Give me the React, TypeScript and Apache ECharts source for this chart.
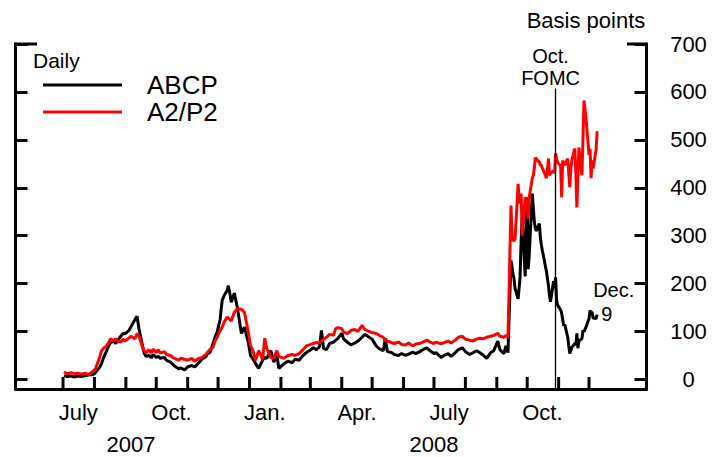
import React, { useEffect, useRef } from "react";
import * as echarts from "echarts";

// ---- Data ----
const dates = [
  "2007-07-02","2007-07-05","2007-07-09","2007-07-12","2007-07-16","2007-07-19","2007-07-23","2007-07-26","2007-07-30",
  "2007-08-02","2007-08-06","2007-08-08","2007-08-10","2007-08-13","2007-08-15","2007-08-17","2007-08-20","2007-08-22","2007-08-24","2007-08-27","2007-08-29","2007-08-31",
  "2007-09-04","2007-09-06","2007-09-10","2007-09-12","2007-09-14","2007-09-17","2007-09-19","2007-09-21","2007-09-24","2007-09-26","2007-09-28",
  "2007-10-01","2007-10-03","2007-10-05","2007-10-09","2007-10-11","2007-10-15","2007-10-17","2007-10-19","2007-10-23","2007-10-25","2007-10-29",
  "2007-11-01","2007-11-05","2007-11-08","2007-11-12","2007-11-15","2007-11-19","2007-11-21","2007-11-23","2007-11-26","2007-11-28","2007-11-30",
  "2007-12-03","2007-12-05","2007-12-07","2007-12-10","2007-12-11","2007-12-13","2007-12-14","2007-12-17","2007-12-20","2007-12-24","2007-12-27","2007-12-31",
  "2008-01-02","2008-01-04","2008-01-07","2008-01-10","2008-01-14","2008-01-16","2008-01-18","2008-01-22","2008-01-25","2008-01-28","2008-01-30",
  "2008-02-04","2008-02-08","2008-02-12","2008-02-15","2008-02-19","2008-02-22","2008-02-26","2008-02-29",
  "2008-03-04","2008-03-07","2008-03-10","2008-03-12","2008-03-14","2008-03-17","2008-03-20","2008-03-24","2008-03-26","2008-03-28",
  "2008-04-01","2008-04-03","2008-04-07","2008-04-10","2008-04-14","2008-04-17","2008-04-21","2008-04-24","2008-04-28",
  "2008-05-01","2008-05-05","2008-05-08","2008-05-12","2008-05-14","2008-05-16","2008-05-20","2008-05-23","2008-05-27","2008-05-30",
  "2008-06-03","2008-06-06","2008-06-10","2008-06-13","2008-06-17","2008-06-20","2008-06-24","2008-06-27",
  "2008-07-01","2008-07-03","2008-07-08","2008-07-11","2008-07-15","2008-07-18","2008-07-22","2008-07-25","2008-07-29",
  "2008-08-01","2008-08-05","2008-08-08","2008-08-12","2008-08-15","2008-08-19","2008-08-22","2008-08-26","2008-08-29",
  "2008-09-02","2008-09-04","2008-09-08","2008-09-10","2008-09-12",
  "2008-09-15","2008-09-16","2008-09-17","2008-09-18","2008-09-19","2008-09-22","2008-09-23","2008-09-24","2008-09-25","2008-09-26","2008-09-29","2008-09-30",
  "2008-10-01","2008-10-02","2008-10-03","2008-10-06","2008-10-07","2008-10-08","2008-10-09","2008-10-10","2008-10-13","2008-10-14","2008-10-15","2008-10-16","2008-10-17",
  "2008-10-20","2008-10-21","2008-10-22","2008-10-23","2008-10-24","2008-10-27","2008-10-28","2008-10-29","2008-10-30","2008-10-31",
  "2008-11-03","2008-11-04","2008-11-05","2008-11-06","2008-11-07","2008-11-10","2008-11-11","2008-11-12","2008-11-13","2008-11-14",
  "2008-11-17","2008-11-18","2008-11-19","2008-11-20","2008-11-21","2008-11-24","2008-11-25","2008-11-26","2008-11-28",
  "2008-12-01","2008-12-02","2008-12-03","2008-12-04","2008-12-05","2008-12-08","2008-12-09",
];

const abcpValues = [
  8,6,7,5,7,6,8,9,10,
  14,25,33,45,60,70,77,80,75,82,90,96,95,
  102,110,125,132,105,75,55,48,50,45,52,
  46,48,44,46,40,36,32,28,22,24,20,
  26,29,26,35,42,48,55,56,75,88,98,
  125,165,175,186,196,175,161,180,150,96,109,75,
  50,44,33,23,40,46,44,60,36,50,23,
  33,38,35,42,40,48,56,60,
  66,62,68,102,65,62,75,78,82,85,
  96,84,77,72,76,80,88,94,88,
  84,70,64,60,86,58,56,52,50,54,
  50,53,57,54,58,62,66,60,
  54,56,46,50,54,48,56,62,66,
  58,52,55,60,56,50,44,56,60,
  80,62,54,70,56,
  248,235,220,210,190,168,190,215,290,338,215,340,
  380,230,260,388,360,330,315,310,325,296,280,268,258,
  225,210,195,175,162,205,190,213,165,155,
  145,138,125,112,115,88,70,54,60,67,
  75,72,96,65,80,85,102,100,109,
  127,144,140,140,128,127,135,
];

const a2p2Values = [
  16,12,14,12,13,11,13,10,16,
  22,45,60,65,70,77,85,80,85,80,78,84,80,
  86,90,85,96,90,70,60,56,62,55,63,
  56,62,55,58,52,50,46,44,40,44,42,
  40,44,38,44,46,52,58,62,67,80,88,
  102,109,120,130,128,124,122,140,148,146,140,96,
  70,62,40,60,42,86,65,46,44,60,48,
  44,50,52,50,54,60,70,72,
  75,77,76,80,84,88,94,92,106,108,
  106,98,96,102,104,100,113,104,100,
  98,96,92,88,82,80,77,75,78,73,
  72,76,70,74,75,78,82,78,
  75,78,74,77,80,76,82,88,90,
  84,82,80,84,86,85,88,90,92,
  96,90,88,92,86,
  363,300,290,290,292,408,380,367,388,300,380,375,
  370,335,380,420,425,440,463,460,453,447,447,440,436,
  420,440,461,426,430,436,430,472,460,453,
  445,380,457,450,447,461,430,401,440,457,
  482,430,359,420,484,426,500,582,547,
  468,482,420,457,440,480,518,
];

const seriesNames = ["ABCP", "A2/P2"];
const monthTickDates = [
  "2007-07-01","2007-08-01","2007-09-01","2007-10-01","2007-11-01","2007-12-01",
  "2008-01-01","2008-02-01","2008-03-01","2008-04-01","2008-05-01","2008-06-01",
  "2008-07-01","2008-08-01","2008-09-01","2008-10-01","2008-11-01","2008-12-01",
];
const monthLabelDates = ["2007-07-16","2007-10-16","2008-01-16","2008-04-16","2008-07-16","2008-10-16"];
const monthLabels = ["July","Oct.","Jan.","Apr.","July","Oct."];
const yearLabelDates = ["2007-09-06","2008-07-01"];
const yearLabels = ["2007","2008"];
const yTicks = [0,100,200,300,400,500,600,700];
const fomcDate = "2008-10-29";
const lastDate = "2008-12-09";

const FONT = "'Liberation Sans', Arial, Helvetica, sans-serif";
const DAY = 86400000;
const Y_MIN = -20;
const Y_MAX = 700;
const TICK_TOP = Y_MIN + (12 * (Y_MAX - Y_MIN)) / 345; // 12px-tall month ticks

function toTime(s: string): number {
  const [y, m, d] = s.split("-").map(Number);
  return Date.UTC(y, m - 1, d);
}

export default function App() {
  const ref = useRef<HTMLDivElement>(null);
  useEffect(() => {
    if (!ref.current) return;
    const chart = echarts.init(ref.current, null, { renderer: "svg" });
    const xMin = toTime("2007-07-01") - 46.9 * DAY;
    const xMax = toTime("2007-07-01") + 575.7 * DAY;
    const findLabel = (keys: string[], labels: string[], v: number) => {
      for (let i = 0; i < keys.length; i++) {
        if (Math.abs(toTime(keys[i]) - v) < DAY / 2) return labels[i];
      }
      return "";
    };
    const abcpData = dates.map((d, i) => [toTime(d), abcpValues[i]]);
    const a2p2Data = dates.map((d, i) => [toTime(d), a2p2Values[i]]);
    const lastIdx = dates.indexOf(lastDate);

    const axisLineStyle = { color: "#000", width: 3 };
    chart.setOption({
      animation: false,
      backgroundColor: "#fff",
      textStyle: { fontFamily: FONT, color: "#000" },
      grid: { left: 15.5, right: 77.5, top: 44, bottom: 68, containLabel: false, outerBoundsMode: "none" },
      legend: {
        orient: "vertical",
        left: 43,
        top: 72,
        padding: 0,
        itemWidth: 79,
        itemHeight: 3,
        itemGap: 1,
        selectedMode: false,
        data: seriesNames.map((n) => ({ name: n, icon: "rect" })),
        textStyle: { fontSize: 26, lineHeight: 26, color: "#000", fontFamily: FONT, padding: [0, 0, 0, 20] },
      },
      xAxis: [
        {
          type: "value",
          min: xMin,
          max: xMax,
          position: "bottom",
          axisLine: { show: true, onZero: false, lineStyle: axisLineStyle },
          axisTick: { show: false },
          axisLabel: {
            customValues: monthLabelDates.map(toTime),
            formatter: (v: number) => findLabel(monthLabelDates, monthLabels, v),
            margin: 12,
            fontSize: 22,
            color: "#000",
            fontFamily: FONT,
          },
          splitLine: { show: false },
        },
        {
          type: "value",
          min: xMin,
          max: xMax,
          position: "bottom",
          axisLine: { show: false, onZero: false },
          axisTick: { show: false },
          axisLabel: {
            customValues: yearLabelDates.map(toTime),
            formatter: (v: number) => findLabel(yearLabelDates, yearLabels, v),
            margin: 44,
            fontSize: 22,
            color: "#000",
            fontFamily: FONT,
          },
          splitLine: { show: false },
        },
      ],
      yAxis: [
        {
          type: "value",
          position: "right",
          min: Y_MIN,
          max: Y_MAX,
          name: "Basis points",
          nameLocation: "end",
          nameGap: 12,
          nameTextStyle: { fontSize: 22, lineHeight: 24, color: "#000", fontFamily: FONT, padding: [0, 121, 0, 0] },
          axisLine: { show: true, onZero: false, lineStyle: axisLineStyle },
          axisTick: {
            show: true,
            inside: true,
            length: 12,
            lineStyle: { color: "#000", width: 3 },
            customValues: yTicks,
          },
          axisLabel: {
            customValues: yTicks,
            align: "center",
            margin: 42,
            fontSize: 22,
            color: "#000",
            fontFamily: FONT,
          },
          splitLine: { show: false },
        },
        {
          type: "value",
          position: "left",
          min: Y_MIN,
          max: Y_MAX,
          axisLine: { show: true, onZero: false, lineStyle: axisLineStyle },
          axisTick: {
            show: true,
            inside: true,
            length: 12,
            lineStyle: { color: "#000", width: 3 },
            customValues: yTicks,
          },
          axisLabel: { show: false },
          splitLine: { show: false },
        },
      ],
      graphic: [
        { type: "line", shape: { x1: 14, y1: 44, x2: 37, y2: 44 }, style: { stroke: "#000", lineWidth: 3 }, z: 10 },
        { type: "line", shape: { x1: 627, y1: 44, x2: 648, y2: 44 }, style: { stroke: "#000", lineWidth: 3 }, z: 10 },
        {
          type: "text",
          left: 33,
          top: 50,
          style: { text: "Daily", fontSize: 21, fontFamily: FONT, fill: "#000" },
        },
      ],
      series: [
        {
          name: seriesNames[0],
          type: "line",
          xAxisIndex: 0,
          yAxisIndex: 0,
          data: abcpData,
          showSymbol: false,
          symbol: "none",
          color: "#000",
          lineStyle: { color: "#000", width: 3 },
          markLine: {
            silent: true,
            symbol: ["none", "none"],
            lineStyle: { color: "#000", width: 1.3, type: "solid" },
            label: {
              show: true,
              position: "end",
              distance: 0,
              formatter: "Oct.\nFOMC",
              fontSize: 20,
              lineHeight: 22,
              color: "#000",
              fontFamily: FONT,
              padding: [0, 10, 0, 0],
            },
            data: [[{ coord: [toTime(fomcDate), Y_MIN] }, { coord: [toTime(fomcDate), 607] }]],
          },
          markPoint: {
            silent: true,
            symbol: "circle",
            symbolSize: 0,
            label: {
              show: true,
              position: [-4, -37],
              formatter: "{a|Dec.}\n{b|9}",
              rich: {
                a: { fontSize: 20, lineHeight: 24, color: "#000", fontFamily: FONT },
                b: { fontSize: 20, lineHeight: 24, color: "#000", fontFamily: FONT, padding: [0, 0, 0, 8] },
              },
            },
            data: [{ coord: [toTime(lastDate), abcpValues[lastIdx]] }],
          },
          z: 2,
        },
        {
          name: seriesNames[1],
          type: "line",
          xAxisIndex: 0,
          yAxisIndex: 0,
          data: a2p2Data,
          showSymbol: false,
          symbol: "none",
          color: "#ff0000",
          lineStyle: { color: "#ff0000", width: 3 },
          z: 3,
        },
        {
          // month tick marks, one vertical segment per month start
          name: "monthTicks",
          type: "custom",
          xAxisIndex: 0,
          yAxisIndex: 0,
          silent: true,
          clip: false,
          z: 20,
          data: monthTickDates.map((d) => [toTime(d), Y_MIN, TICK_TOP]),
          encode: { x: 0, y: [1, 2] },
          renderItem: (params: any, api: any) => {
            const p0 = api.coord([api.value(0), api.value(1)]);
            const p1 = api.coord([api.value(0), api.value(2)]);
            return {
              type: "line",
              shape: { x1: p0[0], y1: p0[1], x2: p1[0], y2: p1[1] },
              style: { stroke: "#000", lineWidth: 3 },
            };
          },
        },
      ],
    });

    return () => chart.dispose();
  }, []);
  return (
    <div
      ref={ref}
      style={{ position: "fixed", left: 0, top: 0, width: 724, height: 457, background: "#fff" }}
    />
  );
}
